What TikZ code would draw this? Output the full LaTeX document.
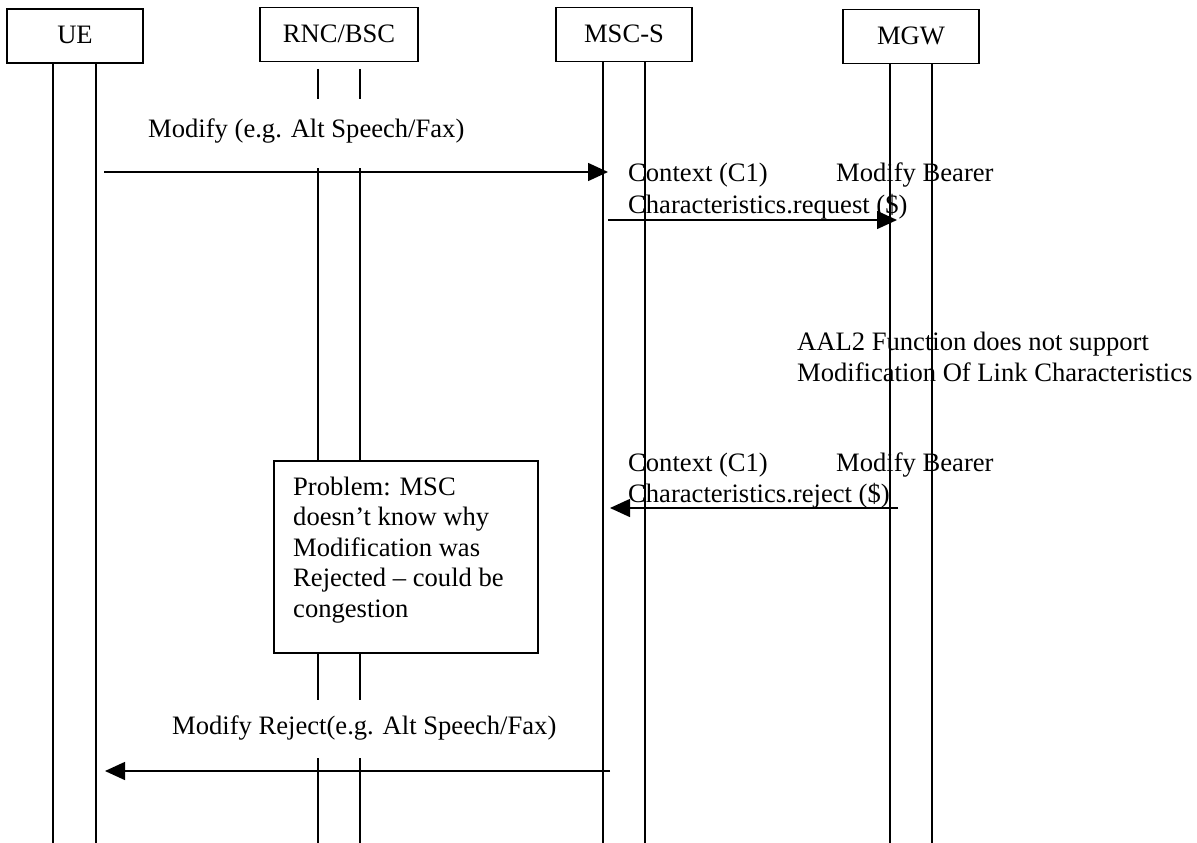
\documentclass[tikz,border=0pt]{standalone}
\usepackage{fontspec}
\setmainfont{Liberation Serif}
\usetikzlibrary{arrows.meta}
\begin{document}
\begin{tikzpicture}[x=1pt,y=-1pt,
  every node/.style={inner sep=0pt, font=\fontsize{26.6}{30.5}\selectfont},
  entity/.style={draw, line width=1.5pt, minimum height=54pt, text height=18pt, text depth=2pt},
  life/.style={line width=1.5pt},
  msg/.style={line width=1.5pt, -{Triangle[length=20pt,width=18pt]}},
  lbl/.style={anchor=base west},
  notebox/.style={draw, line width=1.5pt, anchor=north west, minimum width=264pt, minimum height=192pt}
]
\useasboundingbox (0,0) rectangle (1197,843);

% entities
\node[entity, minimum width=136pt] (ue)  at (75,36)    {UE};
\node[entity, minimum width=158pt] (rnc) at (339,34.5) {RNC/BSC};
\node[entity, minimum width=136pt] (msc) at (624,34.5) {MSC-S};
\node[entity, minimum width=136pt] (mgw) at (911,36.5) {MGW};

% note box
\node[notebox] (note) at (273,460) {};
\node[anchor=north west, align=left] (notetext) at (293,476.8)
  {Problem: MSC\\doesn’t know why\\Modification was\\Rejected – could be\\congestion};

% lifeline bottoms
\coordinate (ueA) at (53,843);  \coordinate (ueB) at (96,843);
\coordinate (mscA) at (603,843); \coordinate (mscB) at (645,843);
\coordinate (mgwA) at (890,843); \coordinate (mgwB) at (932,843);
\draw[life] (ue.south -| ueA) -- (ueA);
\draw[life] (ue.south -| ueB) -- (ueB);
\draw[life] (msc.south -| mscA) -- (mscA);
\draw[life] (msc.south -| mscB) -- (mscB);
\draw[life] (mgw.south -| mgwA) -- (mgwA);
\draw[life] (mgw.south -| mgwB) -- (mgwB);

% RNC/BSC lifelines with gaps
\foreach \x in {318,360} {
  \draw[life] (\x,69) -- (\x,99);
  \draw[life] (\x,168) -- (note.north -| \x,0);
  \draw[life] (note.south -| \x,0) -- (\x,700);
  \draw[life] (\x,758) -- (\x,843);
}

% messages
\coordinate (m1s) at (104,172); \coordinate (m1e) at (608,172);
\coordinate (m2s) at (608,220); \coordinate (m2e) at (897,220);
\coordinate (m3s) at (898,508); \coordinate (m3e) at (610,508);
\coordinate (m4s) at (610,771); \coordinate (m4e) at (105,771);
\draw[msg] (m1s) -- (m1e);
\draw[msg] (m2s) -- (m2e);
\draw[msg] (m3s) -- (m3e);
\draw[msg] (m4s) -- (m4e);

% labels
\node[lbl] (l1) at (148,137) {Modify (e.g. Alt Speech/Fax)};
\node[lbl] (l2a) at (628,181.5) {\makebox[208pt][l]{Context (C1)}Modify Bearer};
\node[lbl] (l2b) at (628,213) {Characteristics.request (\$)};
\node[lbl] (l3a) at (797,350) {AAL2 Function does not support};
\node[lbl] (l3b) at (797,381) {Modification Of Link Characteristics};
\node[lbl] (l4a) at (628,471) {\makebox[208pt][l]{Context (C1)}Modify Bearer};
\node[lbl] (l4b) at (628,502) {Characteristics.reject (\$)};
\node[lbl] (l5) at (172,734) {Modify Reject(e.g. Alt Speech/Fax)};
\end{tikzpicture}
\end{document}
